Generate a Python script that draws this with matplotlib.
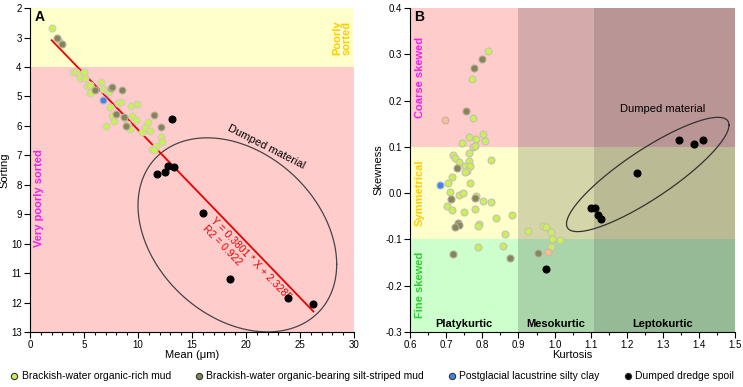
import numpy as np
import matplotlib
matplotlib.use("Agg")
from matplotlib import pyplot as plt
from matplotlib.ticker import MultipleLocator

plt.rcParams['font.family'] = ['Liberation Sans', 'DejaVu Sans']

# Panel A: mean grain size vs sorting
rich_a_x = [2.0, 2.69, 4.0, 4.26, 4.54, 4.63, 4.99, 5.09, 5.3, 5.6, 5.56, 6.57, 6.79, 7.1, 7.28,
            7.41, 7.59, 7.75, 8.18, 8.4, 7.04, 9.0, 9.26, 9.32, 9.44, 9.85, 9.88, 10.37, 10.62,
            10.9, 11.11, 12.16, 12.22, 11.69, 11.27, 11.48]
rich_a_y = [2.67, 3.11, 4.16, 4.16, 4.28, 4.37, 4.16, 4.36, 4.65, 4.62, 4.87, 4.5, 4.76, 4.82, 4.86,
            5.35, 5.67, 5.82, 5.22, 5.18, 5.99, 5.94, 6.09, 5.33, 5.67, 5.8, 5.24, 6.21, 6.05,
            5.88, 6.17, 6.39, 6.55, 6.67, 6.8, 6.81]
silt_a_x = [2.47, 2.96, 6.05, 7.5, 7.6, 8.55, 7.99, 8.73, 8.86, 11.45, 12.13]
silt_a_y = [3.0, 3.23, 4.79, 4.7, 4.68, 4.79, 5.6, 5.69, 6.0, 5.64, 6.04]
lake_a_x = [6.79]
lake_a_y = [5.13]
spoil_a_x = [13.15, 12.78, 13.33, 12.53, 11.79, 15.99, 18.52, 23.92, 26.2]
spoil_a_y = [5.78, 7.37, 7.41, 7.58, 7.63, 8.97, 11.2, 11.86, 12.06]
fit_slope, fit_icpt, fit_r2 = 0.3801, 2.3285, 0.922
fit_range = [2.0, 26.24]

# Panel B: kurtosis vs skewness
rich_b_x = [0.816, 0.772, 0.775, 0.762, 0.782, 0.802, 0.806, 0.743, 0.775, 0.78, 0.719, 0.725,
            0.762, 0.736, 0.762, 0.823, 0.752, 0.765, 0.758, 0.752, 0.716, 0.704, 0.765, 0.710,
            0.734, 0.747, 0.782, 0.802, 0.823, 0.701, 0.715, 0.749, 0.78, 0.839, 0.882, 0.790,
            0.788, 0.863, 0.927, 0.968, 0.976, 0.99, 0.992, 1.014, 0.99, 0.789, 0.857]
rich_b_y = [0.308, 0.247, 0.162, 0.122, 0.117, 0.128, 0.113, 0.108, 0.1, 0.102, 0.082, 0.077,
            0.086, 0.067, 0.07, 0.071, 0.059, 0.059, 0.049, 0.045, 0.034, 0.023, 0.022, 0.003,
            -0.003, 0.001, -0.006, -0.016, -0.019, -0.027, -0.037, -0.041, -0.034, -0.054, -0.048,
            -0.067, -0.07, -0.088, -0.082, -0.070, -0.074, -0.083, -0.098, -0.101, -0.116, -0.116,
            -0.113]
silt_b_x = [0.799, 0.777, 0.754, 0.730, 0.713, 0.780, 0.732, 0.736, 0.724, 0.718, 0.877, 0.955]
silt_b_y = [0.290, 0.270, 0.178, 0.054, -0.013, -0.011, -0.065, -0.068, -0.072, -0.132, -0.139,
            -0.129]
lake_b_x = [0.684]
lake_b_y = [0.018]
other_b_x = [0.697, 0.982]
other_b_y = [0.158, -0.128]
spoil_b_x = [1.344, 1.386, 1.412, 1.229, 1.100, 1.112, 1.119, 1.129, 0.975]
spoil_b_y = [0.115, 0.107, 0.116, 0.043, -0.031, -0.033, -0.047, -0.055, -0.164]

# Folk & Ward class limits
kurt_edges = [0.6, 0.9, 1.11, 1.5]
skew_edges = [-0.3, -0.1, 0.1, 0.4]

c_rich = '#c8f05a'
c_silt = '#85855a'
c_lake = '#3f86ea'
c_other = '#f7bf98'
c_spoil = '#000000'


def scatter(ax, x, y, c, edge):
    ax.scatter(x, y, s=25, c=c, edgecolors=edge, linewidths=0.8, zorder=4)


def ellipse(ax, cx, cy, px, py, qy, **kw):
    t = np.linspace(0, 2 * np.pi, 300)
    ax.plot(cx + px * np.cos(t), cy + py * np.cos(t) + qy * np.sin(t), **kw)


def style(ax):
    ax.spines['top'].set_visible(False)
    ax.spines['right'].set_visible(False)
    ax.tick_params(labelsize=7, length=4, width=0.8, pad=2)
    ax.tick_params(which='minor', length=2.5, width=0.8)


fig = plt.figure(figsize=(7.43, 3.87), dpi=100)
axA = fig.add_axes([0.0404, 0.142, 0.436, 0.837])
axB = fig.add_axes([0.552, 0.142, 0.4374, 0.837])

# ---- A
axA.axhspan(2, 4, color='#ffffcc', lw=0, zorder=0)
axA.axhspan(4, 13, color='#ffcccc', lw=0, zorder=0)
scatter(axA, rich_a_x, rich_a_y, c_rich, '#d8c8c0')
scatter(axA, silt_a_x, silt_a_y, c_silt, '#b8b0a0')
scatter(axA, lake_a_x, lake_a_y, c_lake, '#b0b0d0')
scatter(axA, spoil_a_x, spoil_a_y, c_spoil, '#000000')
fx = np.array(fit_range)
axA.plot(fx, fit_slope * fx + fit_icpt, color='#ee0000', lw=1.3, zorder=3)
ellipse(axA, 19.2, 9.7, 9.2, 1.0, 3.14, color='#444444', lw=0.9, zorder=2)
axA.text(20.45, 10.5, f"Y = {fit_slope} * X + {fit_icpt}", color='#ee0000', fontsize=7.5,
         rotation=-46, ha='center', va='center', rotation_mode='anchor')
axA.text(17.75, 10.07, f"R2 = {fit_r2}", color='#ee0000', fontsize=7.5,
         rotation=-46, ha='center', va='center', rotation_mode='anchor')
axA.text(21.9, 6.72, "Dumped material", fontsize=8, rotation=-27, ha='center', va='center',
         rotation_mode='anchor')
axA.text(28.9, 3.0, "Poorly\nsorted", color='#ffcc00', fontsize=8, fontweight='bold',
         rotation=90, ha='center', va='center', linespacing=1.0)
axA.text(0.85, 8.45, "Very poorly sorted", color='#ee22ee', fontsize=8, fontweight='bold',
         rotation=90, ha='center', va='center')
axA.text(0.85, 2.3, "A", fontsize=10, fontweight='bold', ha='center', va='center')
axA.set_xlim(0, 30)
axA.set_ylim(13, 2)
axA.xaxis.set_major_locator(MultipleLocator(5))
axA.xaxis.set_minor_locator(MultipleLocator(1))
axA.yaxis.set_major_locator(MultipleLocator(1))
axA.set_xlabel("Mean (μm)", fontsize=8, labelpad=0)
axA.set_ylabel("Sorting", fontsize=8)
axA.yaxis.set_label_coords(-0.062, 0.5)
style(axA)

# ---- B
bases = {2: (1.0, 0.8, 0.8), 1: (1.0, 1.0, 0.8), 0: (0.8, 1.0, 0.8)}
shade = [1.0, 0.835, 0.73]
for j in range(3):
    for i in range(3):
        col = tuple(v * shade[i] for v in bases[j])
        axB.fill_between(kurt_edges[i:i + 2], skew_edges[j], skew_edges[j + 1],
                         color=col, lw=0, zorder=0)
scatter(axB, rich_b_x, rich_b_y, c_rich, '#c8c0b0')
scatter(axB, silt_b_x, silt_b_y, c_silt, '#b0a898')
scatter(axB, lake_b_x, lake_b_y, c_lake, '#b0b0d0')
scatter(axB, other_b_x, other_b_y, c_other, '#d0b0a0')
scatter(axB, spoil_b_x, spoil_b_y, c_spoil, '#000000')
ellipse(axB, 1.258, 0.0405, 0.225, 0.1067, 0.0622, color='#333333', lw=0.9, zorder=2)
axB.text(1.30, 0.181, "Dumped material", fontsize=8, ha='center', va='center')
axB.text(0.627, 0.25, "Coarse skewed", color='#ee22ee', fontsize=8, fontweight='bold',
         rotation=90, ha='center', va='center')
axB.text(0.627, 0.0, "Symmetrical", color='#ffcc00', fontsize=8, fontweight='bold',
         rotation=90, ha='center', va='center')
axB.text(0.627, -0.198, "Fine skewed", color='#33cc33', fontsize=8, fontweight='bold',
         rotation=90, ha='center', va='center')
for lab, kx in zip(["Platykurtic", "Mesokurtic", "Leptokurtic"], [0.75, 1.003, 1.30]):
    axB.text(kx, -0.283, lab, fontsize=8, fontweight='bold', ha='center', va='center')
axB.text(0.625, 0.381, "B", fontsize=10, fontweight='bold', ha='center', va='center')
axB.set_xlim(0.6, 1.5)
axB.set_ylim(-0.3, 0.4)
axB.xaxis.set_minor_locator(MultipleLocator(0.05))
axB.set_xticks(np.round(np.arange(0.6, 1.51, 0.1), 1))
axB.set_xticklabels([f"{v:.1f}" for v in np.arange(0.6, 1.51, 0.1)])
axB.set_yticks(np.round(np.arange(-0.3, 0.41, 0.1), 1))
axB.set_yticklabels([f"{v:.1f}" for v in np.arange(-0.3, 0.41, 0.1)])
axB.set_xlabel("Kurtosis", fontsize=8, labelpad=0)
axB.set_ylabel("Skewness", fontsize=8)
axB.yaxis.set_label_coords(-0.083, 0.5)
style(axB)

# legend
names = ["Brackish-water organic-rich mud", "Brackish-water organic-bearing silt-striped mud",
         "Postglacial lacustrine silty clay", "Dumped dredge spoil"]
cols = [c_rich, c_silt, c_lake, c_spoil]
handles = [plt.Line2D([], [], ls='', marker='o', ms=4.5, mfc=c, mec='#333333', mew=0.8)
           for c in cols]
fig.legend(handles, names, loc='center', bbox_to_anchor=(0.5, 0.028), ncol=4, frameon=False,
           fontsize=7.5, handletextpad=0.2, columnspacing=2.2, handlelength=1.0)

fig.savefig("out.png", dpi=100)
